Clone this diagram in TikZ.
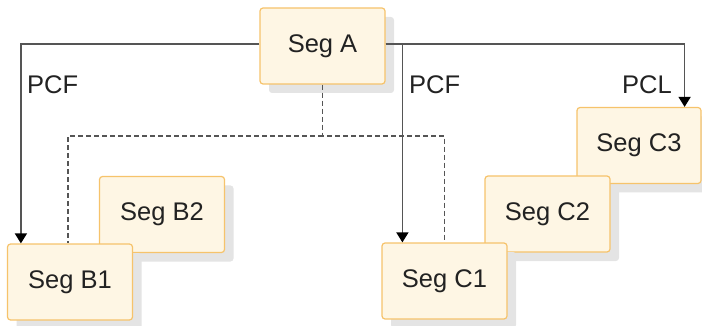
\documentclass[tikz,border=0pt]{standalone}
\usepackage{fontspec}
\setmainfont{Liberation Sans}
\usetikzlibrary{arrows.meta,shadows}
\definecolor{segfill}{HTML}{FEF6E4}
\definecolor{segdraw}{HTML}{F6C36B}
\definecolor{linec}{HTML}{555555}
\definecolor{txt}{HTML}{222222}
\definecolor{shad}{HTML}{E4E4E4}
\tikzset{
  seg/.style={rectangle, rounded corners=3pt, draw=segdraw, line width=1.2pt, fill=segfill,
    minimum width=125pt, minimum height=76pt, inner sep=0pt, text=txt,
    font=\fontsize{25.5}{30}\selectfont,
    drop shadow={shadow xshift=9pt, shadow yshift=-9pt, fill=shad, opacity=1}},
  conn/.style={draw=linec, line width=1.5pt, -{Triangle[length=10pt,width=12pt,color=black]}},
  dconn/.style={draw=linec, line width=1.3pt, dash pattern=on 5pt off 3pt},
  lbl/.style={text=txt, font=\fontsize{25.5}{30}\selectfont, inner sep=0pt}
}
\begin{document}
\begin{tikzpicture}[x=1pt,y=-1pt]
\useasboundingbox (0,0) rectangle (702,326);
\node[seg] (A) at (322.5,46) {Seg A};
\node[seg] (B2) at (162,214.5) {Seg B2};
\node[seg] (B1) at (70,282) {Seg B1};
\node[seg, minimum width=124pt] (C3) at (639,145.5) {Seg C3};
\node[seg] (C2) at (547.5,214) {Seg C2};
\node[seg] (C1) at (444.5,281) {Seg C1};
\coordinate (j) at (322.5,136);
\draw[conn] ([yshift=2pt]A.west) -| ([xshift=14pt]B1.north west);
\draw[conn] ([yshift=2pt]A.east) -| ([xshift=-17pt]C3.north east);
\draw[conn] ([yshift=2pt]A.east) -| ([xshift=21pt]C1.north west);
\draw[dconn] (A.south) -- (j) -| (C1.north);
\draw[dconn] (j) -| ([xshift=-2pt]B1.north);
\node[lbl, anchor=west] (l1) at (27,85) {PCF};
\node[lbl, anchor=west] (l2) at (409,85) {PCF};
\node[lbl, anchor=east] (l3) at (672,85) {PCL};
\end{tikzpicture}
\end{document}
